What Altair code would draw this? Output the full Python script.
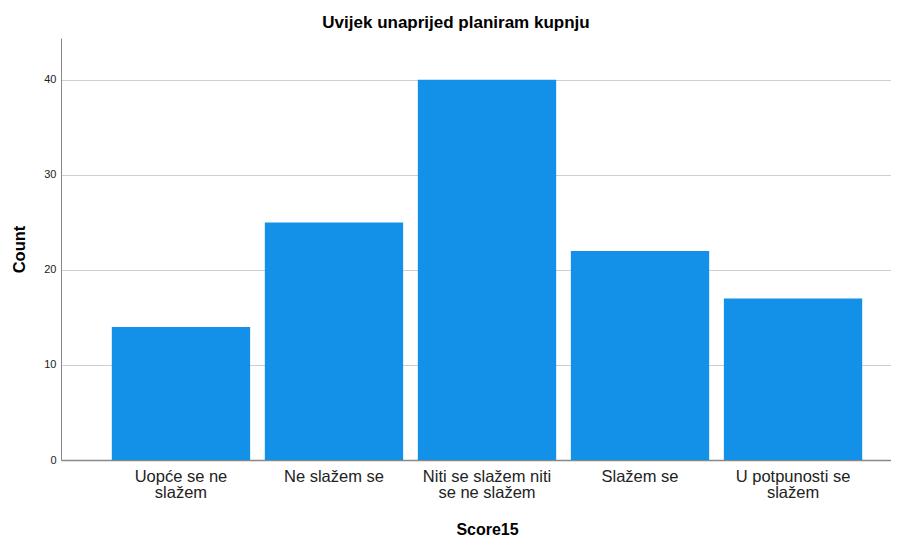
import altair as alt
import pandas as pd

categories = ["Uopće se ne slažem", "Ne slažem se", "Niti se slažem niti se ne slažem",
              "Slažem se", "U potpunosti se slažem"]
label_lines = [["Uopće se ne", "slažem"], ["Ne slažem se"], ["Niti se slažem niti", "se ne slažem"],
               ["Slažem se"], ["U potpunosti se", "slažem"]]
counts = [14, 25, 40, 22, 17]
y_ticks = [0, 10, 20, 30, 40]

df = pd.DataFrame({"Score15": categories, "Count": counts})

expr_parts = []
for cat, lines in zip(categories, label_lines):
    arr = "[" + ",".join("'" + l + "'" for l in lines) + "]"
    expr_parts.append(f"datum.label == '{cat}' ? {arr}")
label_expr = " : ".join(expr_parts) + " : datum.label"

FONT = "Liberation Sans"

chart = alt.Chart(df).mark_bar(color="#1390E7").encode(
    x=alt.X("Score15:N", sort=categories, title="Score15",
            scale=alt.Scale(range=[0, 852], paddingInner=0.096, paddingOuter=0.332),
            axis=alt.Axis(labelAngle=0, labelExpr=label_expr, labelFontSize=16.5,
                          labelLineHeight=16.5, labelColor="#222222", labelFont=FONT,
                          labelPadding=8, ticks=False, domainColor="#888888", domainWidth=1.5,
                          titleFont=FONT, titleFontSize=16, titleFontWeight="bold",
                          titleColor="#000000", titlePadding=20, titleX=426, grid=False,
                          labelLimit=200)),
    y=alt.Y("Count:Q", title="Count",
            scale=alt.Scale(domain=[0, 44.4], nice=False, zero=True),
            axis=alt.Axis(values=y_ticks, ticks=False, labelFont=FONT, labelFontSize=11,
                          labelColor="#222222", labelPadding=5, domainColor="#888888",
                          gridColor="#cfcfcf", gridWidth=1,
                          titleFont=FONT, titleFontSize=16.5, titleFontWeight="bold",
                          titleColor="#000000", titlePadding=16)),
).properties(
    width=830, height=422,
    title=alt.TitleParams("Uvijek unaprijed planiram kupnju", font=FONT, fontSize=17,
                          fontWeight="bold", color="#000000", anchor="middle", dx=-20, offset=6),
    autosize=alt.AutoSizeParams(type="none"),
    padding={"left": 53, "top": 30, "right": 0, "bottom": 75},
).configure_view(stroke=None)

chart.save("out.html", embed_options={"renderer": "svg", "actions": False})
